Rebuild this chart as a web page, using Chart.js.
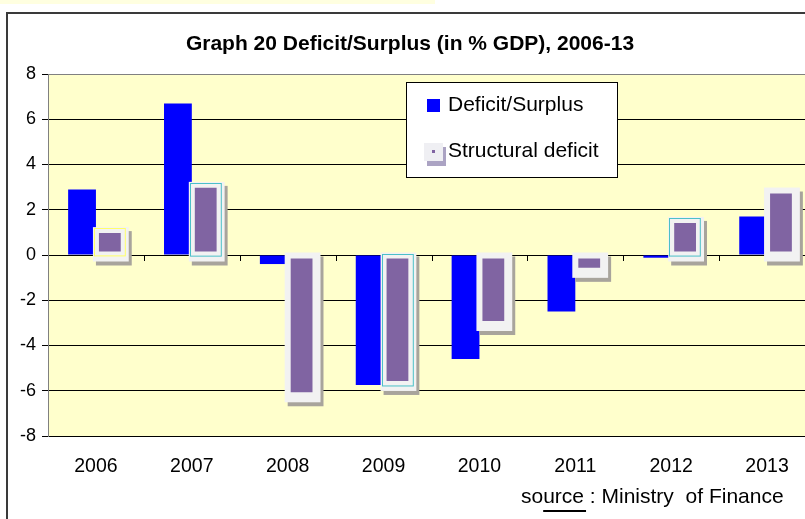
<!DOCTYPE html>
<html>
<head>
<meta charset="utf-8">
<script src="https://cdn.jsdelivr.net/npm/chart.js@4.4.1/dist/chart.umd.min.js"></script>
<style>
  html, body { margin: 0; padding: 0; background: #fff; overflow: hidden; }
  #wrap { position: relative; width: 830px; height: 519px; }
</style>
</head>
<body>
<div id="wrap"><canvas id="chart" width="830" height="519"></canvas></div>
<script>
// ── Data ────────────────────────────────────────────────────────────────
const years = ['2006', '2007', '2008', '2009', '2010', '2011', '2012', '2013'];
const balance = [2.9, 6.7, -0.4, -5.75, -4.6, -2.5, -0.12, 1.7];
const structural = [1.1, 3.1, -6.2, -5.7, -3.05, -0.7, 1.55, 2.85];
const yMin = -8, yMax = 8, yStep = 2;

const FONT = '"Liberation Sans", Arial, sans-serif';
// thin glow line drawn inside some of the framed bars
const glow = ['#FFFF66', '#4BC0C8', null, '#4BC0C8', null, null, '#4BC0C8', null];

// white page, frame, plot fill and heading
const backdrop = {
  id: 'backdrop',
  beforeDraw(chart) {
    const { ctx, chartArea: a } = chart;
    ctx.save();
    ctx.fillStyle = '#fff';
    ctx.fillRect(0, 0, chart.width, chart.height);
    ctx.fillStyle = '#FFFFE0';
    ctx.fillRect(0, 0, 435, 4);
    ctx.strokeStyle = '#3a3a3a';
    ctx.lineWidth = 2;
    ctx.strokeRect(7, 13, chart.width + 20, chart.height + 20);
    ctx.fillStyle = '#FFFFCC';
    ctx.fillRect(a.left, a.top, a.right - a.left, a.bottom - a.top);
    ctx.fillStyle = '#000';
    ctx.font = 'bold 21px ' + FONT;
    ctx.textAlign = 'center';
    ctx.textBaseline = 'middle';
    ctx.fillText('Graph 20 Deficit/Surplus (in % GDP), 2006-13', 410, 44);
    ctx.restore();
  }
};

// boxed look of the structural bars + small category ticks on the zero line
const framedBars = {
  id: 'framedBars',
  afterDatasetsDraw(chart) {
    const { ctx } = chart;
    const x = chart.scales.x, y = chart.scales.y;
    const zero = y.getPixelForValue(0);
    ctx.save();
    ctx.strokeStyle = '#000';
    ctx.lineWidth = 1;
    const step = (x.right - x.left) / years.length;
    for (let i = 1; i < years.length; i++) {
      const px = Math.round(x.left + i * step) + 0.5;
      ctx.beginPath();
      ctx.moveTo(px, zero);
      ctx.lineTo(px, zero + 6);
      ctx.stroke();
    }
    chart.getDatasetMeta(1).data.forEach((bar, i) => {
      const l = bar.x - bar.width / 2, r = bar.x + bar.width / 2;
      const t = Math.min(bar.y, bar.base), b = Math.max(bar.y, bar.base);
      const fl = l - 3, fr = r + 5, ft = t - 3, fb = b + 7;
      ctx.fillStyle = '#A8A49C';
      ctx.fillRect(fl + 3, ft + 4, fr - fl, fb - ft);
      ctx.fillStyle = '#F2F2F2';
      ctx.fillRect(fl, ft, fr - fl, fb - ft);
      if (glow[i]) {
        ctx.strokeStyle = glow[i];
        ctx.strokeRect(Math.round(l) - 1.5, Math.round(t) - 1.5, r - l + 3, b - t + 3);
      }
      bar.draw(ctx);
    });
    ctx.restore();
  }
};

// legend box inside the plot and the source line
const notes = {
  id: 'notes',
  afterDraw(chart) {
    const { ctx } = chart;
    const ds = chart.data.datasets;
    ctx.save();
    ctx.fillStyle = '#fff';
    ctx.fillRect(406, 82, 211, 95);
    ctx.strokeStyle = '#000';
    ctx.lineWidth = 1;
    ctx.strokeRect(406.5, 82.5, 211, 95);

    ctx.fillStyle = ds[0].backgroundColor;
    ctx.fillRect(427, 99, 13, 13);

    ctx.fillStyle = '#ABA3C3';
    ctx.fillRect(427, 147, 19, 19);
    ctx.fillStyle = '#EFEFF3';
    ctx.fillRect(424, 143, 19, 18);
    ctx.fillStyle = ds[1].backgroundColor;
    ctx.fillRect(432, 150, 3, 3);

    ctx.fillStyle = '#000';
    ctx.font = '21px ' + FONT;
    ctx.textAlign = 'left';
    ctx.textBaseline = 'middle';
    ctx.fillText(ds[0].label, 448, 105);
    ctx.fillText(ds[1].label, 448, 151);

    const src = 'source : Ministry  of Finance';
    ctx.fillText(src, 521, 497);
    const u0 = 521 + ctx.measureText('so').width;
    const u1 = 521 + ctx.measureText('source').width + 2;
    ctx.fillRect(u0, 510, u1 - u0, 2);
    ctx.restore();
  }
};

new Chart(document.getElementById('chart'), {
  type: 'bar',
  data: {
    labels: years,
    datasets: [
      {
        label: 'Deficit/Surplus',
        data: balance,
        backgroundColor: '#0000FF',
        borderWidth: 0
      },
      {
        label: 'Structural deficit',
        data: structural,
        backgroundColor: '#8064A2',
        borderColor: '#F2F2F2',
        borderWidth: 3,
        borderSkipped: false
      }
    ]
  },
  options: {
    responsive: false,
    devicePixelRatio: 1,
    animation: false,
    categoryPercentage: 0.58,
    barPercentage: 1.0,
    layout: { padding: { left: 0, right: 15, top: 74, bottom: 43 } },
    plugins: { legend: { display: false }, tooltip: { enabled: false } },
    scales: {
      x: {
        grid: { display: false, drawTicks: false },
        border: { display: false },
        ticks: { color: '#000', font: { family: FONT, size: 19.5 }, padding: 19 },
        afterFit(s) { s.height = 40; }
      },
      y: {
        min: yMin,
        max: yMax,
        ticks: { stepSize: yStep, color: '#000', font: { family: FONT, size: 18 }, padding: 6 },
        grid: {
          color: c => c.tick && c.tick.value === yMax ? '#808080' : '#000',
          lineWidth: 1,
          tickLength: 6,
          tickColor: '#000'
        },
        border: { color: '#808080' },
        afterFit(s) { s.width = 48; }
      }
    }
  },
  plugins: [backdrop, framedBars, notes]
});
</script>
</body>
</html>
